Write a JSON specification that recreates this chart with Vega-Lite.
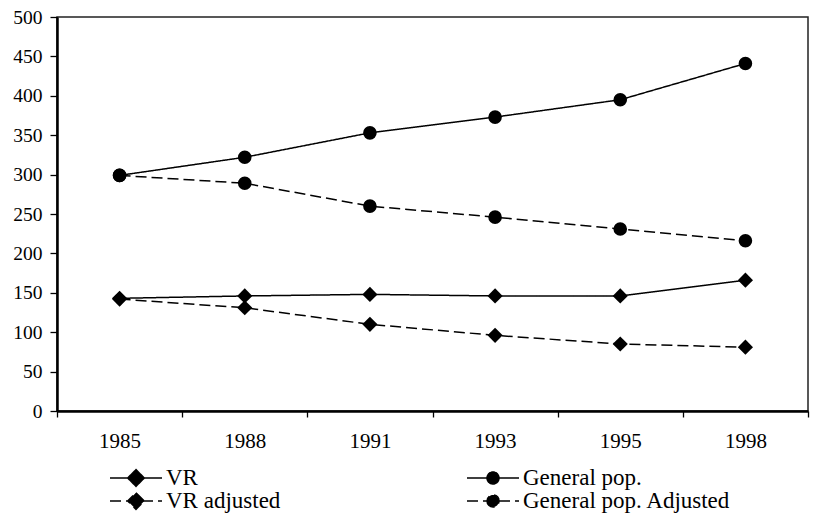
{
  "$schema": "https://vega.github.io/schema/vega-lite/v6.json",
  "width": 751,
  "height": 394,
  "autosize": {"type": "none"},
  "padding": {"left": 57, "top": 17, "right": 9, "bottom": 104},
  "background": "white",
  "config": {
    "view": {"stroke": "#222222", "strokeWidth": 1.5},
    "axis": {"domainColor": "black", "tickColor": "black", "labelColor": "black", "grid": false, "title": null}
  },
  "data": {
    "values": [
      {"year": "1985", "series": "VR", "value": 143},
      {"year": "1988", "series": "VR", "value": 146},
      {"year": "1991", "series": "VR", "value": 148},
      {"year": "1993", "series": "VR", "value": 146},
      {"year": "1995", "series": "VR", "value": 146},
      {"year": "1998", "series": "VR", "value": 166},
      {"year": "1985", "series": "VR adjusted", "value": 142},
      {"year": "1988", "series": "VR adjusted", "value": 131},
      {"year": "1991", "series": "VR adjusted", "value": 110},
      {"year": "1993", "series": "VR adjusted", "value": 96},
      {"year": "1995", "series": "VR adjusted", "value": 85},
      {"year": "1998", "series": "VR adjusted", "value": 81},
      {"year": "1985", "series": "General pop.", "value": 299},
      {"year": "1988", "series": "General pop.", "value": 322},
      {"year": "1991", "series": "General pop.", "value": 353},
      {"year": "1993", "series": "General pop.", "value": 373},
      {"year": "1995", "series": "General pop.", "value": 395},
      {"year": "1998", "series": "General pop.", "value": 441},
      {"year": "1985", "series": "General pop. Adjusted", "value": 299},
      {"year": "1988", "series": "General pop. Adjusted", "value": 289},
      {"year": "1991", "series": "General pop. Adjusted", "value": 260},
      {"year": "1993", "series": "General pop. Adjusted", "value": 246},
      {"year": "1995", "series": "General pop. Adjusted", "value": 231},
      {"year": "1998", "series": "General pop. Adjusted", "value": 216}
    ]
  },
  "encoding": {
    "x": {
      "field": "year",
      "type": "ordinal",
      "scale": {"type": "band", "paddingInner": 0, "paddingOuter": 0},
      "axis": {
        "tickBand": "extent",
        "labelAngle": 0,
        "labelFont": "Liberation Serif",
        "labelFontSize": 21,
        "labelPadding": 13,
        "tickSize": 6,
        "tickWidth": 1.3,
        "domainWidth": 2.3
      }
    },
    "y": {
      "field": "value",
      "type": "quantitative",
      "scale": {"domain": [0, 500], "nice": false},
      "axis": {
        "values": [0, 50, 100, 150, 200, 250, 300, 350, 400, 450, 500],
        "labelFont": "Liberation Serif",
        "labelFontSize": 19.5,
        "labelPadding": 8,
        "tickSize": 7,
        "tickWidth": 1.3,
        "domainWidth": 2.5
      }
    }
  },
  "layer": [
    {
      "mark": {"type": "line", "color": "black", "strokeWidth": 1.5},
      "encoding": {
        "strokeDash": {
          "field": "series",
          "type": "nominal",
          "scale": {
            "domain": ["VR", "VR adjusted", "General pop.", "General pop. Adjusted"],
            "range": [[1, 0], [11, 5], [1, 0], [11, 5]]
          },
          "legend": {
            "orient": "none",
            "legendX": 52,
            "legendY": 451,
            "title": null,
            "columns": 2,
            "columnPadding": 185,
            "rowPadding": 0,
            "clipHeight": 20,
            "padding": 0,
            "symbolOffset": 0,
            "symbolSize": 2704,
            "symbolStrokeWidth": 1.5,
            "symbolStrokeColor": "black",
            "symbolFillColor": "black",
            "labelFont": "Liberation Serif",
            "labelFontSize": 23,
            "labelColor": "black",
            "labelOffset": 3,
            "labelLimit": 400,
            "encode": {
              "symbols": {
                "update": {
                  "shape": {"signal": "indexof(datum.value, 'VR') === 0 ? 'M-1,0L1,0M0,-0.32L0.32,0L0,0.32L-0.32,0Z' : 'M-1,0L1,0M-0.23,0A0.23,0.23,0,1,0,0.23,0A0.23,0.23,0,1,0,-0.23,0Z'"},
                  "strokeDash": {"signal": "test(/djusted/, datum.value) ? [6, 4] : [1, 0]"},
                  "fill": {"value": "black"},
                  "stroke": {"value": "black"},
                  "opacity": {"value": 1}
                }
              }
            }
          }
        }
      }
    },
    {
      "transform": [{"filter": "indexof(datum.series, 'VR') === 0"}],
      "mark": {"type": "point", "filled": true, "color": "black", "opacity": 1, "shape": "diamond", "size": 230}
    },
    {
      "transform": [{"filter": "indexof(datum.series, 'General') === 0"}],
      "mark": {"type": "point", "filled": true, "color": "black", "opacity": 1, "shape": "circle", "size": 185}
    }
  ]
}
